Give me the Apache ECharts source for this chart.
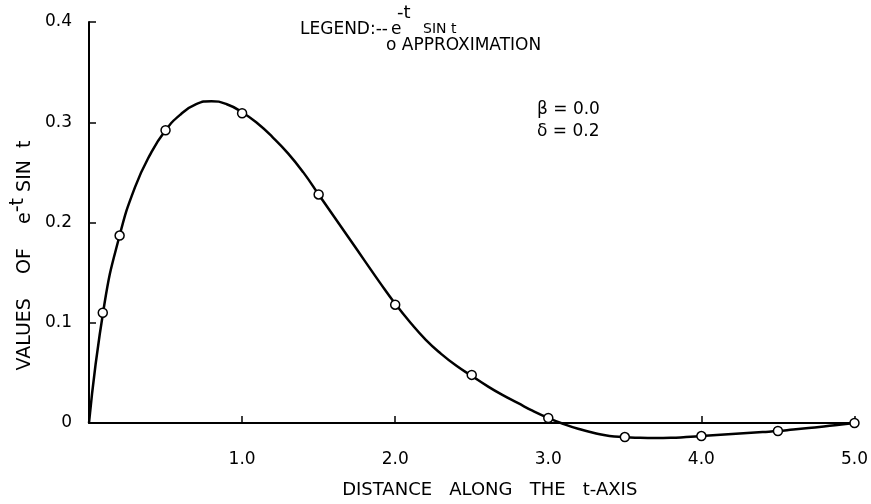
<!DOCTYPE html>
<html lang="en">
<head>
  <meta charset="utf-8">
  <style>
    html, body { margin: 0; padding: 0; background: #fff; }
    #chart { width: 871px; height: 504px; }
  </style>
</head>
<body>
  <div id="chart"></div>
  <script src="https://cdn.jsdelivr.net/npm/echarts@6/dist/echarts.min.js"></script>
  <script>
    // curve e^-t sin t, every 0.1
    const curveT = [0, 0.1, 0.2, 0.3, 0.4, 0.5, 0.6, 0.7, 0.8, 0.9, 1.0,
      1.1, 1.2, 1.3, 1.4, 1.5, 1.6, 1.7, 1.8, 1.9, 2.0,
      2.1, 2.2, 2.3, 2.4, 2.5, 2.6, 2.7, 2.8, 2.9, 3.0,
      3.1, 3.2, 3.3, 3.4, 3.5, 3.6, 3.7, 3.8, 3.9, 4.0,
      4.1, 4.2, 4.3, 4.4, 4.5, 4.6, 4.7, 4.8, 4.9, 5.0];
    const curveV = [0, 0.118, 0.187, 0.235, 0.268, 0.292, 0.308, 0.318, 0.321, 0.318, 0.310,
      0.299, 0.285, 0.269, 0.250, 0.228, 0.206, 0.184, 0.162, 0.140, 0.119,
      0.100, 0.083, 0.069, 0.057, 0.047, 0.037, 0.028, 0.020, 0.012, 0.005,
      -0.001, -0.006, -0.010, -0.013, -0.014, -0.0148, -0.015, -0.0148, -0.014, -0.013,
      -0.012, -0.011, -0.010, -0.009, -0.008, -0.0065, -0.005, -0.0035, -0.0018, 0.0];
    // approximation points
    const approxT = [0.09, 0.2, 0.5, 1.0, 1.5, 2.0, 2.5, 3.0, 3.5, 4.0, 4.5, 5.0];
    const approxV = [0.11, 0.187, 0.292, 0.309, 0.228, 0.118, 0.048, 0.005, -0.014, -0.013, -0.008, 0.0];
    const yTicks = [0, 0.1, 0.2, 0.3, 0.4];
    const xTicks = [0, 1, 2, 3, 4, 5];

    const font = 'DejaVu Sans';
    const chart = echarts.init(document.getElementById('chart'), null, { renderer: 'canvas' });

    const option = {
      backgroundColor: '#fff',
      animation: false,
      grid: { left: 89, right: 11, top: 22, bottom: 77 },
      xAxis: {
        type: 'value',
        min: xTicks[0],
        max: xTicks[xTicks.length - 1],
        interval: 1,
        name: 'DISTANCE   ALONG   THE   t-AXIS',
        nameLocation: 'middle',
        nameGap: 58,
        nameTextStyle: { color: '#000', fontFamily: font, fontSize: 18, padding: [0, 0, 0, 36] },
        axisLine: { onZero: false, lineStyle: { color: '#000', width: 2 } },
        axisTick: { inside: true, length: 7, lineStyle: { color: '#000', width: 1.5 } },
        axisLabel: {
          color: '#000', fontFamily: font, fontSize: 17, margin: 28,
          formatter: v => v === 0 ? '' : v.toFixed(1)
        },
        splitLine: { show: false }
      },
      yAxis: {
        type: 'value',
        min: yTicks[0],
        max: yTicks[yTicks.length - 1],
        interval: 0.1,
        name: 'VALUES    OF    e{sup|-t} SIN  t',
        nameLocation: 'middle',
        nameGap: 33,
        nameRotate: 90,
        nameTextStyle: {
          color: '#000', fontFamily: font, fontSize: 19, padding: [0, 66, 0, 0],
          rich: {
            sup: { color: '#000', fontFamily: font, fontSize: 19, verticalAlign: 'top', padding: [0, 0, 13, 0] }
          }
        },
        axisLine: { show: true, lineStyle: { color: '#000', width: 2 } },
        axisTick: { show: true, inside: true, length: 7, lineStyle: { color: '#000', width: 1.5 } },
        axisLabel: {
          color: '#000', fontFamily: font, fontSize: 17, margin: 17,
          formatter: v => v === 0 ? '0' : v.toFixed(1)
        },
        splitLine: { show: false }
      },
      graphic: [
        { type: 'text', x: 300, y: 21, style: { text: 'LEGEND:--', fill: '#000', font: '17px "DejaVu Sans"' } },
        { type: 'text', x: 391, y: 21, style: { text: 'e', fill: '#000', font: '17px "DejaVu Sans"' } },
        { type: 'text', x: 397, y: 4, style: { text: '-t', fill: '#000', font: '18px "DejaVu Sans"' } },
        { type: 'text', x: 423, y: 22, style: { text: 'SIN t', fill: '#000', font: '14px "DejaVu Sans"' } },
        { type: 'text', x: 386, y: 37, style: { text: 'o APPROXIMATION', fill: '#000', font: '17px "DejaVu Sans"' } },
        { type: 'text', x: 537, y: 101, style: { text: 'β = 0.0', fill: '#000', font: '17px "DejaVu Sans"' } },
        { type: 'text', x: 537, y: 123, style: { text: 'δ = 0.2', fill: '#000', font: '17px "DejaVu Sans"' } }
      ],
      series: [
        {
          name: 'e^-t sin t',
          type: 'line',
          smooth: true,
          showSymbol: false,
          clip: false,
          lineStyle: { color: '#000', width: 2.5 },
          data: curveT.map((t, i) => [t, curveV[i]]),
          z: 2
        },
        {
          name: 'APPROXIMATION',
          type: 'scatter',
          symbol: 'circle',
          symbolSize: 9,
          clip: false,
          itemStyle: { color: '#fff', borderColor: '#000', borderWidth: 1.5, opacity: 1 },
          data: approxT.map((t, i) => [t, approxV[i]]),
          z: 3
        }
      ]
    };

    chart.setOption(option);
  </script>
</body>
</html>
